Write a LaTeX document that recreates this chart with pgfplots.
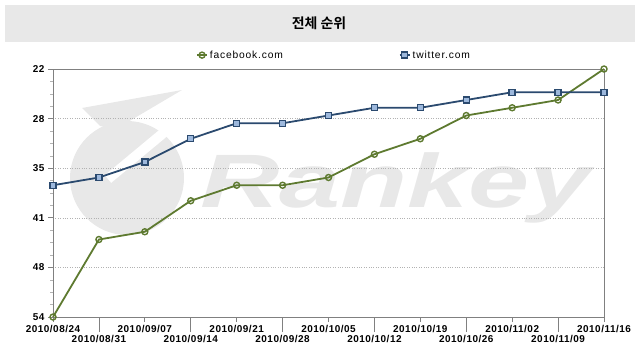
\documentclass[border=0pt]{standalone}
\usepackage{pgfplots}
\pgfplotsset{compat=1.18}
\usepackage{fontspec}
\setmainfont{Liberation Sans}
\newfontfamily\kr{Noto Sans CJK KR}[BoldFont={Noto Sans CJK KR Bold}]
\newfontfamily\tickfont{Liberation Sans}[LetterSpace=5]
\newfontfamily\legfont{Liberation Sans}[LetterSpace=8]
\definecolor{fbline}{HTML}{5E7A30}
\definecolor{fbfill}{HTML}{E6EFC8}
\definecolor{twline}{HTML}{2B4A6F}
\definecolor{twfill}{HTML}{9DB8DC}
\definecolor{axgray}{HTML}{808080}
\definecolor{band}{HTML}{E8E8E8}
\definecolor{wm}{HTML}{E8E8E8}
\begin{document}
\begin{tikzpicture}[x=1bp,y=1bp]
\useasboundingbox (0,0) rectangle (640,355);
\fill[band] (5,313) rectangle (635,350);
\node[font=\kr\bfseries\fontsize{14}{16}\selectfont] at (319,331.5) {전체 순위};
% watermark
\fill[wm] (127,177) circle (57);
\draw[white, line width=10] (108,176) -- (185,240);
\fill[wm] (82,247) -- (182,265) -- (116,226) -- (100,229) -- cycle;
\node[wm, anchor=base west, inner sep=0, xscale=1.45,
  font=\fontsize{76}{80}\selectfont\bfseries\itshape] at (200,148) {Rankey};
\begin{axis}[
  at={(53bp,38bp)}, anchor=south west, scale only axis,
  width=551bp, height=248bp,
  xmin=0, xmax=12, ymin=22, ymax=54, y dir=reverse,
  clip=false,
  axis line style={axgray, line width=0.8bp},
  xtick={0,2,...,12},
  xticklabels={2010/08/24,2010/09/07,2010/09/21,2010/10/05,2010/10/19,2010/11/02,2010/11/16},
  extra x ticks={1,3,...,11},
  extra x tick labels={2010/08/31,2010/09/14,2010/09/28,2010/10/12,2010/10/26,2010/11/09},
  extra x tick style={major tick length=15bp},
  tick align=outside, major tick length=5bp, minor tick length=3bp,
  tick style={axgray, line width=0.8bp},
  xtick pos=lower, ytick pos=left,
  ytick={22,28.4,34.8,41.2,47.6,54},
  yticklabels={22,28,35,41,48,54},
  minor y tick num=3,
  minor tick style={axgray!60, line width=0.6bp},
  ymajorgrids,
  major grid style={dotted, black!30, line width=0.6bp},
  ticklabel style={font=\tickfont\bfseries\fontsize{10}{12}\selectfont, text=black},
  legend columns=2,
  legend style={at={(0.5100,1.056)}, anchor=center, draw=none, fill=none,
    font=\legfont\fontsize{10.3}{12}\selectfont,
    /tikz/every even column/.append style={column sep=114bp}},
  legend image code/.code={\draw[mark repeat=2,mark phase=2,#1] plot coordinates {(0bp,0bp) (5bp,0bp) (10bp,0bp)};},
]
\addplot[fbline, line width=1.8bp, mark=o, mark size=3bp,
  mark options={fill=fbfill, line width=1.4bp}]
  coordinates {(0,54) (1,44) (2,43) (3,39) (4,37) (5,37) (6,36) (7,33) (8,31) (9,28) (10,27) (11,26) (12,22)};
\addlegendentry{facebook.com}
\addplot[twline, line width=1.8bp, mark=square*, mark size=3bp,
  mark options={fill=twfill, line width=1.4bp}]
  coordinates {(0,37) (1,36) (2,34) (3,31) (4,29) (5,29) (6,28) (7,27) (8,27) (9,26) (10,25) (11,25) (12,25)};
\addlegendentry{twitter.com}
\end{axis}
\end{tikzpicture}
\end{document}
